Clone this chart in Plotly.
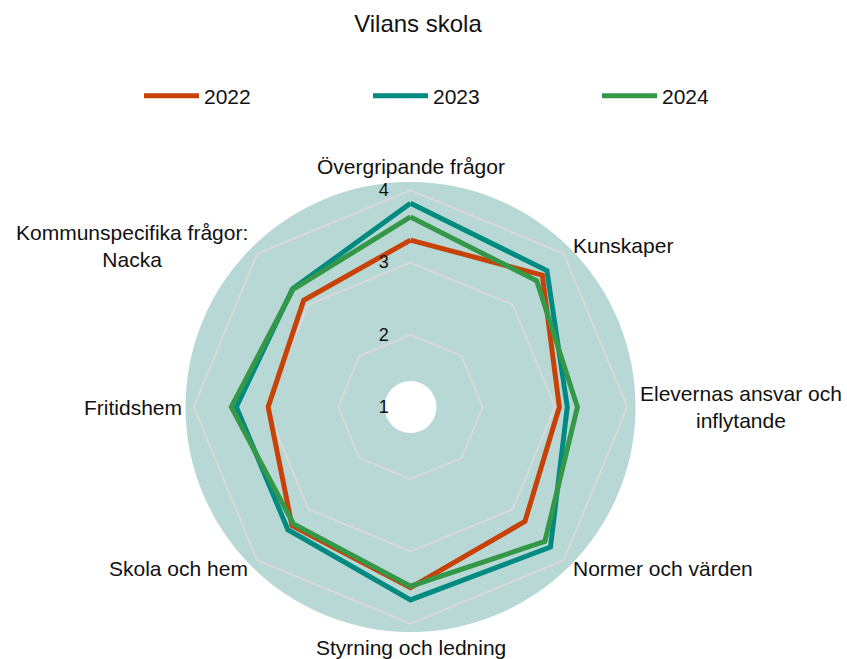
import math
import plotly.graph_objects as go

categories = [
    "Övergripande frågor",
    "Kunskaper",
    "Elevernas ansvar och<br>inflytande",
    "Normer och värden",
    "Styrning och ledning",
    "Skola och hem",
    "Fritidshem",
    "Kommunspecifika frågor:<br>Nacka",
]
years = ["2022", "2023", "2024"]
values_2022 = [3.31, 3.58, 3.06, 3.24, 3.50, 3.32, 2.97, 3.09]
values_2023 = [3.82, 3.67, 3.17, 3.74, 3.67, 3.40, 3.41, 3.31]
values_2024 = [3.63, 3.47, 3.31, 3.63, 3.48, 3.29, 3.48, 3.30]
radial_ticks = [1, 2, 3, 4]

colors = ["#C84208", "#008A82", "#349848"]
W, H = 847, 659
cx, cy, R = 410.5, 407.0, 224.0
rmin, rmax = 1.0, 4.1
label_r = 228.0

fig = go.Figure()
for name, vals, col in zip(years, [values_2022, values_2023, values_2024], colors):
    fig.add_trace(go.Scatterpolar(
        r=vals + vals[:1],
        theta=categories + categories[:1],
        mode="lines",
        name=name,
        line=dict(color=col, width=5),
    ))

# category labels placed around the polar frame, centred multi-line text
annotations = []
n = len(categories)
for i, cat in enumerate(categories):
    ang = 2 * math.pi * i / n
    s, c = math.sin(ang), math.cos(ang)
    px = cx + label_r * s
    py = cy - label_r * c
    xa = "left" if s > 0.1 else ("right" if s < -0.1 else "center")
    if abs(s) > 0.1:
        ya = "middle"
    else:
        ya = "bottom" if c > 0 else "top"
    annotations.append(dict(
        text=cat, x=px / W, y=1 - py / H, xref="paper", yref="paper",
        xanchor=xa, yanchor=ya, align="center", showarrow=False,
        font=dict(size=21, color="#111111"), borderpad=0,
    ))

font = "Liberation Sans, Arial, sans-serif"
fig.update_layout(
    width=W, height=H,
    margin=dict(l=0, r=0, t=0, b=0),
    paper_bgcolor="white",
    font=dict(family=font, color="#111111", size=20),
    title=dict(text="Vilans skola", x=418 / W, xanchor="center", y=1 - 24 / H,
               yanchor="middle", yref="container", font=dict(size=24, color="#111111")),
    legend=dict(orientation="h", x=139 / W, xanchor="left", y=1 - 96 / H, yanchor="middle",
                font=dict(size=21), itemwidth=55, entrywidth=159, tracegroupgap=0),
    polar=dict(
        domain=dict(x=[(cx - R) / W, (cx + R) / W], y=[1 - (cy + R) / H, 1 - (cy - R) / H]),
        bgcolor="rgba(0,0,0,0)",
        gridshape="linear",
        radialaxis=dict(range=[rmin, rmax], tickvals=radial_ticks, showline=False,
                        ticks="outside", ticklen=15, tickcolor="rgba(0,0,0,0)",
                        angle=90, tickangle=90, side="counterclockwise",
                        gridcolor="#D9D9D9", gridwidth=2,
                        tickfont=dict(size=18, color="#111111")),
        angularaxis=dict(rotation=90, direction="clockwise", showline=False, showgrid=False,
                         ticks="", showticklabels=False),
    ),
    annotations=annotations,
    shapes=[
        dict(type="circle", xref="paper", yref="paper", layer="below",
             x0=(cx - 225) / W, x1=(cx + 225) / W, y0=1 - (cy + 225) / H, y1=1 - (cy - 225) / H,
             fillcolor="#B7D8D4", line=dict(width=0)),
        dict(type="circle", xref="paper", yref="paper", layer="below",
             x0=(cx - 26) / W, x1=(cx + 26) / W, y0=1 - (cy + 26) / H, y1=1 - (cy - 26) / H,
             fillcolor="white", line=dict(width=0)),
    ],
)

fig.write_html("out.html", config={"displayModeBar": False},
               post_script="document.body.style.margin='0';document.body.style.padding='0';")
